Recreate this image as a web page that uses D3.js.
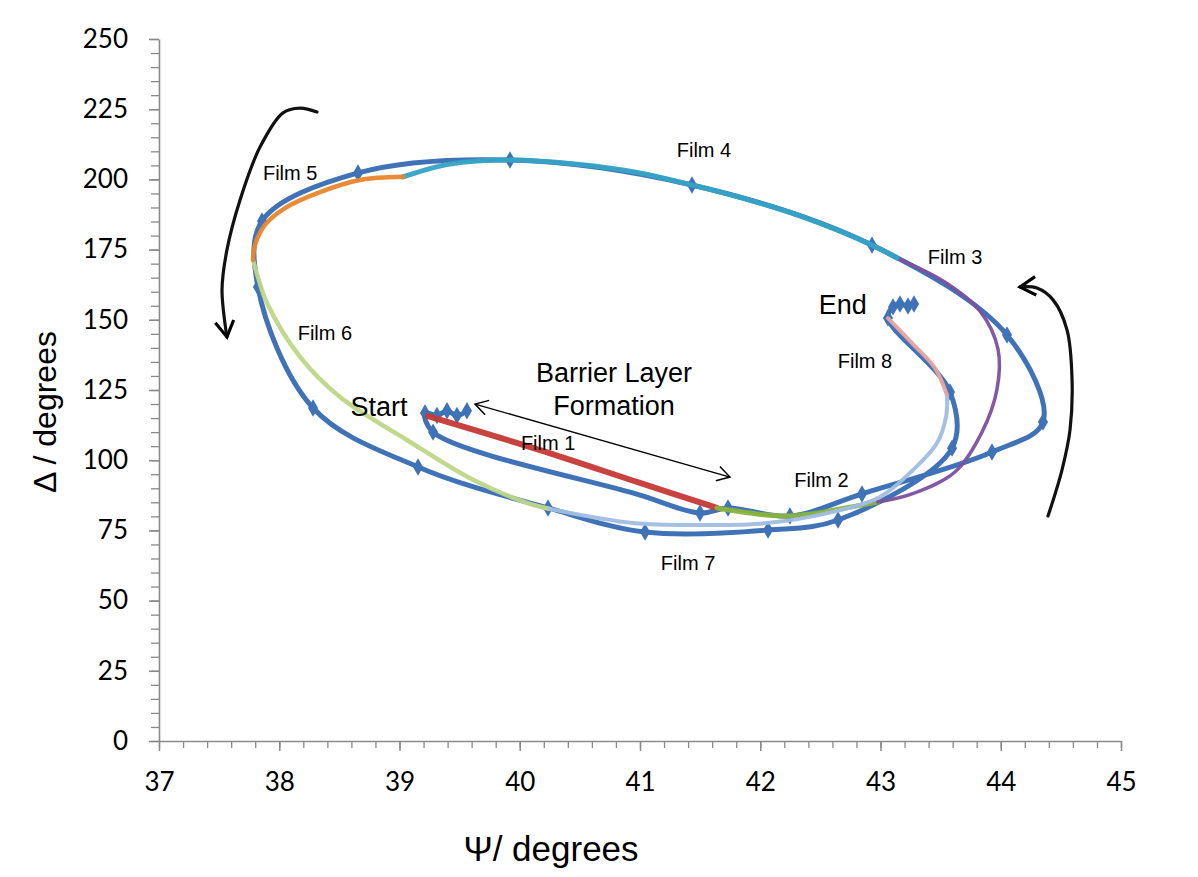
<!DOCTYPE html>
<html>
<head>
<meta charset="utf-8">
<script src="https://cdn.jsdelivr.net/npm/d3@7"></script>
<style>
  body { margin: 0; background: #fff; }
  svg { display: block; }
</style>
</head>
<body>
<svg id="chart" width="1198" height="877"></svg>
<script>
// ---- axis ticks ----
const psiTicks = [37, 38, 39, 40, 41, 42, 43, 44, 45];
const deltaTicks = [0, 25, 50, 75, 100, 125, 150, 175, 200, 225, 250];

// ---- measured trajectory, [Ψ, Δ, marker] in degrees, in time order ----
// the third value is 1 for a recorded point shown with a marker, 0 for a smoothing node
const startCluster = [[39.561, 117.6, 1], [39.478, 115.9, 1], [39.395, 117.6, 1], [39.312, 115.9, 1], [39.212, 116.8, 1]];
const measuredPath = [
  [39.279, 110.0, 1], [41.0, 87.6, 0], [41.499, 81.2, 1], [41.732, 83.0, 1],
  [42.247, 80.1, 1], [42.846, 88.0, 1], [43.927, 102.9, 1], [44.351, 113.6, 1], [44.052, 144.6, 1],
  [42.929, 176.6, 1], [41.432, 198.0, 1], [39.919, 206.9, 1], [38.655, 202.3, 1], [37.857, 185.2, 1],
  [37.823, 161.7, 1], [38.281, 118.6, 1], [39.154, 97.6, 1], [40.235, 83.0, 1], [41.042, 74.4, 1],
  [42.065, 75.1, 1], [42.647, 78.7, 1], [43.595, 104.3, 1], [43.578, 124.3, 1], [43.062, 150.6, 1]
];
const endCluster = [[43.104, 154.6, 1], [43.162, 155.6, 1], [43.229, 154.9, 1], [43.279, 155.6, 1]];

// ---- model fits for each film ----
const film1Fit = [[39.237, 115.7], [40.168, 103.6], [41.0, 91.9], [41.640, 83.0]];
const film2Fit = [[41.640, 83.0], [41.913, 81.2], [42.162, 80.1], [42.412, 80.8], [42.661, 82.6], [42.977, 85.1]];
const film3Fit = [[42.977, 85.1], [43.262, 88.0], [43.619, 95.8], [43.844, 110.0], [43.969, 125.3],
                  [43.977, 139.6], [43.828, 153.1], [43.537, 163.4], [43.137, 172.0]];
const film4Fit = [[43.137, 172.0], [42.929, 176.6], [42.330, 187.0], [41.830, 193.6], [41.431, 198.0],
                  [40.998, 202.3], [40.499, 205.3], [39.919, 206.9], [39.420, 205.5], [39.029, 200.9]];
const film5Fit = [[39.029, 200.9], [38.672, 199.8], [38.339, 195.5], [38.048, 189.8], [37.881, 183.8],
                  [37.798, 176.6], [37.782, 171.3]];
const film6Fit = [[37.782, 171.3], [37.823, 165.2], [37.898, 156.0], [38.173, 136.8], [38.505, 122.5],
                  [39.062, 107.2], [39.611, 93.0], [40.060, 84.8], [40.252, 82.6]];
const film7Fit = [[40.252, 82.6], [40.942, 77.6], [41.499, 76.9], [42.056, 77.6], [42.605, 81.6],
                  [42.996, 86.9], [43.270, 96.5], [43.470, 106.1], [43.545, 115.4], [43.553, 123.2]];
const film8Fit = [[43.553, 123.2], [43.453, 132.8], [43.262, 141.7], [43.062, 150.6]];

const fitColors = {
  film1: "#c53a35", film2: "#8bb33c", film3: "#7b519f", film4: "#36a3c4",
  film5: "#e9852d", film6: "#bed788", film7: "#a1bde2", film8: "#e9a3a0"
};

// ---- annotation geometry (data units) ----
const leftArrow = [[38.314, 224.0], [38.173, 225.4], [38.031, 223.7], [37.840, 211.5], [37.674, 192.7],
                   [37.565, 174.9], [37.524, 160.6], [37.565, 143.9]];
const rightArrow = [[44.393, 80.1], [44.509, 96.5], [44.576, 110.8], [44.593, 128.6], [44.551, 146.4],
                    [44.435, 157.1], [44.301, 161.3], [44.160, 161.7]];
const barrierArrow = [[39.628, 120.0], [41.748, 94.0]];

const filmLabels = [
  { text: "Film 1", psi: 40.236, delta: 106.3 },
  { text: "Film 2", psi: 42.509, delta: 92.9 },
  { text: "Film 3", psi: 43.620, delta: 172.4 },
  { text: "Film 4", psi: 41.532, delta: 210.5 },
  { text: "Film 5", psi: 38.091, delta: 202.3 },
  { text: "Film 6", psi: 38.380, delta: 145.3 },
  { text: "Film 7", psi: 41.400, delta: 63.5 },
  { text: "Film 8", psi: 42.871, delta: 135.3 }
];
const bigLabels = [
  { text: "Start", psi: 38.830, delta: 119.3 },
  { text: "End", psi: 42.686, delta: 155.4 },
  { text: "Barrier Layer", psi: 40.784, delta: 131.4 },
  { text: "Formation", psi: 40.784, delta: 119.7 }
];

// ---- layout ----
const svg = d3.select("#chart");
const x = d3.scaleLinear().domain([37, 45]).range([159, 1121]);
const y = d3.scaleLinear().domain([0, 250]).range([741, 39]);

const defs = svg.append("defs");
defs.append("filter").attr("id", "soft")
  .append("feGaussianBlur").attr("stdDeviation", 0.6);
function chevron(id, size, sw) {
  defs.append("marker").attr("id", id)
    .attr("viewBox", "-12 -8 14 16").attr("markerUnits", "userSpaceOnUse")
    .attr("markerWidth", size).attr("markerHeight", size * 16 / 14)
    .attr("refX", 0).attr("refY", 0).attr("orient", "auto-start-reverse")
    .append("path").attr("d", "M-11,-6.5 L0,0 L-11,6.5")
    .attr("fill", "none").attr("stroke", "#000").attr("stroke-width", sw)
    .attr("stroke-linejoin", "miter");
}
chevron("headThin", 16, 1.3);
chevron("headThick", 20, 2.2);

// ---- axes ----
const axisColor = "#8a8a8a";
const tickFont = "Lato, 'Open Sans', sans-serif";

const gx = svg.append("g").attr("transform", `translate(0,${y(0)})`);
gx.call(d3.axisBottom(x).tickValues(d3.range(37, 45.001, 0.2)).tickSize(7).tickFormat(""));
gx.select(".domain").remove();
gx.selectAll(".tick line").attr("stroke", axisColor).attr("stroke-width", 1.3);
const gxMajor = svg.append("g").attr("transform", `translate(0,${y(0)})`)
  .call(d3.axisBottom(x).tickValues(psiTicks).tickSize(10).tickSizeOuter(0).tickPadding(22).tickFormat(d3.format("d")));
gxMajor.select(".domain").attr("stroke", axisColor).attr("stroke-width", 1.6);
gxMajor.selectAll(".tick line").attr("stroke", axisColor).attr("stroke-width", 1.5);
gxMajor.selectAll("text").attr("font-family", tickFont).attr("font-size", 26).attr("fill", "#000");

const gy = svg.append("g").attr("transform", `translate(${x(37)},0)`);
gy.call(d3.axisLeft(y).tickValues(d3.range(0, 250.001, 5)).tickSize(8).tickFormat(""));
gy.select(".domain").remove();
gy.selectAll(".tick line").attr("stroke", axisColor).attr("stroke-width", 1.3);
const gyMajor = svg.append("g").attr("transform", `translate(${x(37)},0)`)
  .call(d3.axisLeft(y).tickValues(deltaTicks).tickSize(10).tickSizeOuter(0).tickPadding(21).tickFormat(d3.format("d")));
gyMajor.select(".domain").attr("stroke", axisColor).attr("stroke-width", 1.6);
gyMajor.selectAll(".tick line").attr("stroke", axisColor).attr("stroke-width", 1.5);
gyMajor.selectAll("text").attr("font-family", tickFont).attr("font-size", 26).attr("fill", "#000");

// axis titles
svg.append("text").attr("x", 551).attr("y", 861)
  .attr("text-anchor", "middle").attr("font-family", "'Liberation Sans', Arial, sans-serif")
  .attr("font-size", 35).text("Ψ/ degrees");
svg.append("text").attr("transform", "translate(56,412) rotate(-90)")
  .attr("text-anchor", "middle").attr("font-family", "'Liberation Sans', Arial, sans-serif")
  .attr("font-size", 32).text("Δ / degrees");

// ---- data ----
const line = d3.line().x(d => x(d[0])).y(d => y(d[1])).curve(d3.curveCatmullRom.alpha(0.5));
const plot = svg.append("g").attr("filter", "url(#soft)");

const measuredAll = [...startCluster, ...measuredPath, ...endCluster];
const measuredColor = "#3f72b7";
plot.append("path").attr("d", line(measuredAll))
  .attr("fill", "none").attr("stroke", measuredColor).attr("stroke-width", 5)
  .attr("stroke-linejoin", "round").attr("stroke-linecap", "round");
plot.selectAll(".pt").data(measuredAll.filter(d => d[2] === 1)).join("path").attr("class", "pt")
  .attr("transform", d => `translate(${x(d[0])},${y(d[1])})`)
  .attr("d", d3.symbol(d3.symbolDiamond, 88))
  .attr("fill", measuredColor);

const fits = [
  [film1Fit, fitColors.film1, 6],
  [film2Fit, fitColors.film2, 5],
  [film6Fit, fitColors.film6, 4.5],
  [film7Fit, fitColors.film7, 4],
  [film8Fit, fitColors.film8, 4],
  [film3Fit, fitColors.film3, 3.5],
  [film4Fit, fitColors.film4, 5],
  [film5Fit, fitColors.film5, 4.5]
];
fits.forEach(([pts, color, w]) => {
  plot.append("path").attr("d", line(pts))
    .attr("fill", "none").attr("stroke", color).attr("stroke-width", w)
    .attr("stroke-linecap", "round").attr("stroke-opacity", 0.95);
});

// ---- annotations ----
svg.append("path").attr("d", line(leftArrow))
  .attr("fill", "none").attr("stroke", "#111").attr("stroke-width", 3.2)
  .attr("stroke-linecap", "round").attr("marker-end", "url(#headThick)");
svg.append("path").attr("d", line(rightArrow))
  .attr("fill", "none").attr("stroke", "#111").attr("stroke-width", 3.2)
  .attr("stroke-linecap", "round").attr("marker-end", "url(#headThick)");
svg.append("path").attr("d", d3.line().x(d => x(d[0])).y(d => y(d[1]))(barrierArrow))
  .attr("fill", "none").attr("stroke", "#000").attr("stroke-width", 1.3)
  .attr("marker-start", "url(#headThin)").attr("marker-end", "url(#headThin)");

const labelFont = "'Liberation Sans', Arial, sans-serif";
svg.selectAll(".film").data(filmLabels).join("text").attr("class", "film")
  .attr("x", d => x(d.psi)).attr("y", d => y(d.delta) + 0.36 * 20)
  .attr("text-anchor", "middle").attr("font-family", labelFont).attr("font-size", 20)
  .text(d => d.text);
svg.selectAll(".big").data(bigLabels).join("text").attr("class", "big")
  .attr("x", d => x(d.psi)).attr("y", d => y(d.delta) + 0.36 * 27)
  .attr("text-anchor", "middle").attr("font-family", labelFont).attr("font-size", 27)
  .text(d => d.text);
</script>
</body>
</html>
